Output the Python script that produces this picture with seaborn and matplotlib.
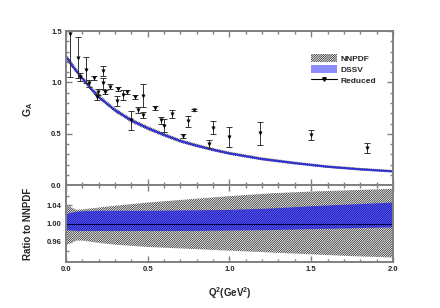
import numpy as np
import pandas as pd
import matplotlib
matplotlib.use("Agg")
import matplotlib.pyplot as plt
import seaborn as sns
from matplotlib.ticker import MultipleLocator, FixedLocator, FormatStrFormatter
from matplotlib.patches import Patch
from matplotlib.lines import Line2D

sns.set_theme(style="ticks")
plt.rcParams['font.family'] = ['Liberation Sans', 'DejaVu Sans']
plt.rcParams['font.weight'] = 'bold'
plt.rcParams['mathtext.fontset'] = 'custom'
plt.rcParams['mathtext.rm'] = 'Liberation Sans:bold'
plt.rcParams['mathtext.it'] = 'Liberation Sans:bold'
plt.rcParams['mathtext.bf'] = 'Liberation Sans:bold'
plt.rcParams['hatch.linewidth'] = 0.45

# ---- "Reduced" data points ----
q2_pts = [0.024, 0.071, 0.086, 0.122, 0.143, 0.173, 0.192, 0.198, 0.224, 0.224,
          0.239, 0.269, 0.31, 0.32, 0.35, 0.371, 0.40, 0.422, 0.442, 0.469,
          0.473, 0.544, 0.579, 0.60, 0.646, 0.718, 0.748, 0.785, 0.877, 0.897,
          1.0, 1.187, 1.497, 1.839]
ga_pts = [1.47, 1.24, 1.05, 1.12, 0.99, 1.04, 0.86, 0.91, 1.11, 0.99,
          0.91, 0.96, 0.82, 0.94, 0.88, 0.91, 0.63, 0.86, 0.73, 0.87,
          0.68, 0.75, 0.63, 0.58, 0.69, 0.48, 0.62, 0.73, 0.40, 0.56,
          0.47, 0.505, 0.49, 0.36]
err_pts = [0.42, 0.20, 0.04, 0.13, 0.03, 0.02, 0.03, 0.03, 0.05, 0.05,
           0.02, 0.02, 0.05, 0.02, 0.05, 0.02, 0.09, 0.02, 0.03, 0.11,
           0.03, 0.02, 0.03, 0.06, 0.04, 0.02, 0.05, 0.01, 0.04, 0.06,
           0.10, 0.11, 0.05, 0.05]

# ---- G_A curve (top panel) ----
q2_curve = [0.0, 0.05, 0.1, 0.15, 0.2, 0.3, 0.4, 0.5, 0.6, 0.7, 0.8, 0.9, 1.0,
            1.2, 1.4, 1.6, 1.8, 2.0]
ga_curve = [1.25, 1.14, 1.04, 0.945, 0.86, 0.73, 0.63, 0.555, 0.49, 0.43, 0.385,
            0.345, 0.31, 0.255, 0.215, 0.18, 0.155, 0.135]
nnpdf_top_err = [0.03, 0.028, 0.026, 0.025, 0.024, 0.022, 0.021, 0.02, 0.019, 0.018,
                 0.017, 0.016, 0.016, 0.015, 0.014, 0.013, 0.013, 0.012]
dssv_top_err = [0.014, 0.013, 0.012, 0.012, 0.011, 0.011, 0.010, 0.010, 0.010, 0.009,
                0.009, 0.009, 0.009, 0.008, 0.008, 0.008, 0.008, 0.008]

# ---- Ratio to NNPDF (bottom panel) ----
q2_ratio = [0.0, 0.03, 0.065, 0.1, 0.2, 0.3, 0.5, 0.75, 1.0, 1.25, 1.5, 1.75, 2.0]
nnpdf_hi = [1.044, 1.036, 1.030, 1.031, 1.035, 1.039, 1.046, 1.053, 1.060, 1.066, 1.070, 1.073, 1.076]
nnpdf_lo = [0.953, 0.958, 0.963, 0.963, 0.958, 0.954, 0.949, 0.945, 0.941, 0.937, 0.933, 0.929, 0.926]
dssv_hi = [1.022, 1.025, 1.027, 1.028, 1.029, 1.029, 1.029, 1.030, 1.031, 1.034, 1.039, 1.043, 1.047]
dssv_lo = [0.987, 0.986, 0.985, 0.985, 0.985, 0.985, 0.985, 0.985, 0.986, 0.987, 0.989, 0.991, 0.993]
ratio_center = [1.0] * len(q2_ratio)

ratio_major_ticks = [0.96, 1.00, 1.04]
ratio_minor_ticks = [0.94, 0.98, 1.02, 1.06]

curve = pd.DataFrame({"q2": q2_curve, "ga": ga_curve,
                      "nlo": np.array(ga_curve) - np.array(nnpdf_top_err),
                      "nhi": np.array(ga_curve) + np.array(nnpdf_top_err),
                      "dlo": np.array(ga_curve) - np.array(dssv_top_err),
                      "dhi": np.array(ga_curve) + np.array(dssv_top_err)})
pts = pd.DataFrame({"q2": q2_pts, "ga": ga_pts, "err": err_pts})
ratio = pd.DataFrame({"q2": q2_ratio, "nlo": nnpdf_lo, "nhi": nnpdf_hi,
                      "dlo": dssv_lo, "dhi": dssv_hi, "c": ratio_center})

HATCH = '///////////////'
BLUE_FILL = (0.0, 0.0, 1.0)
BLUE_ALPHA = 0.45
SPINE = '#808080'

fig = plt.figure(figsize=(4.4, 3.08), dpi=100)
ax1 = fig.add_axes([0.15, 0.399, 0.743, 0.5])
ax2 = fig.add_axes([0.15, 0.149, 0.743, 0.25], sharex=ax1)

# top panel
ax1.fill_between(curve.q2, curve.nlo, curve.nhi, facecolor='white', edgecolor='black',
                 hatch=HATCH, linewidth=0)
ax1.fill_between(curve.q2, curve.dlo, curve.dhi, color=BLUE_FILL, alpha=BLUE_ALPHA, linewidth=0)
sns.lineplot(data=curve, x="q2", y="ga", ax=ax1, color='#3030d0', lw=1.3)
ax1.errorbar(pts.q2, pts.ga, yerr=pts.err, fmt='none', ecolor='#333333',
             elinewidth=0.7, capsize=2, capthick=0.7, clip_on=True)
sns.scatterplot(data=pts, x="q2", y="ga", ax=ax1, marker='v', s=6, color='black',
                edgecolor='black', linewidth=0.3, zorder=5)

# bottom panel
ax2.fill_between(ratio.q2, ratio.nlo, ratio.nhi, facecolor='white', edgecolor='black',
                 hatch=HATCH, linewidth=0)
ax2.fill_between(ratio.q2, ratio.dlo, ratio.dhi, color=BLUE_FILL, alpha=0.6, linewidth=0)
sns.lineplot(data=ratio, x="q2", y="c", ax=ax2, color='#000040', lw=0.8)

ax1.set_xlim(0, 2.0)
ax1.set_ylim(0, 1.5)
ax2.set_ylim(0.916, 1.084)

for ax in (ax1, ax2):
    for s in ax.spines.values():
        s.set_color(SPINE)
        s.set_linewidth(1.4)
    ax.xaxis.set_major_locator(MultipleLocator(0.5))
    ax.xaxis.set_minor_locator(MultipleLocator(0.1))
    ax.tick_params(which='both', direction='in', top=True, right=True,
                   color=SPINE, width=1.0, labelsize=5.5, pad=3)
    ax.tick_params(which='major', length=4)
    ax.tick_params(which='minor', length=2)

ax1.yaxis.set_major_locator(MultipleLocator(0.5))
ax1.yaxis.set_minor_locator(MultipleLocator(0.1))
ax1.tick_params(labelbottom=False)
ax1.set_xlabel('')
ax2.yaxis.set_major_locator(FixedLocator(ratio_major_ticks))
ax2.yaxis.set_minor_locator(FixedLocator(ratio_minor_ticks))
ax2.yaxis.set_major_formatter(FormatStrFormatter('%.2f'))
ax1.yaxis.set_major_formatter(FormatStrFormatter('%.1f'))
ax2.xaxis.set_major_formatter(FormatStrFormatter('%.1f'))

ax1.set_ylabel('G$_{\\rm A}$', fontsize=7.5, fontweight='bold')
ax2.set_ylabel('Ratio to NNPDF', fontsize=7, fontweight='bold')
ax2.set_xlabel('Q$^{2}$(GeV$^{2}$)', fontsize=7, fontweight='bold')
ax1.yaxis.set_label_coords(-0.095, 0.49)
ax2.yaxis.set_label_coords(-0.1, 0.5)
ax2.xaxis.set_label_coords(0.5, -0.3)

handles = [Patch(facecolor='white', edgecolor='black', hatch=HATCH, linewidth=0),
           Patch(facecolor=BLUE_FILL, alpha=BLUE_ALPHA, linewidth=0),
           Line2D([], [], color='black', marker='v', markersize=2.5, lw=0.8)]
ax1.legend(handles, ['NNPDF', 'DSSV', 'Reduced'], loc='upper left',
           bbox_to_anchor=(0.749, 0.85), frameon=False, borderaxespad=0, borderpad=0,
           handlelength=3.1, handleheight=1.1, handletextpad=0.5, labelspacing=0.25,
           prop={'weight': 'bold', 'size': 6})

fig.savefig('out.png', dpi=100)
